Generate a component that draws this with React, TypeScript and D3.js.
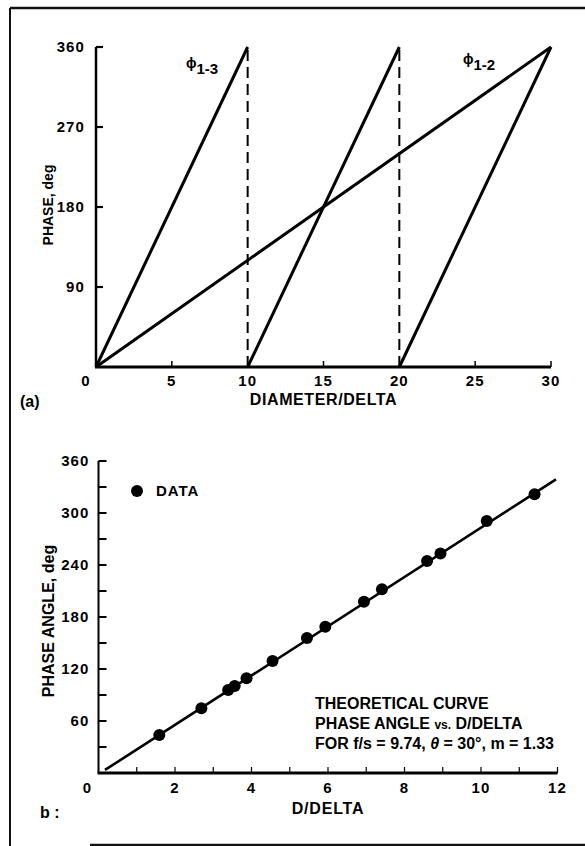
import React from "react";
import * as d3 from "d3";

// ---------- Chart (a) data ----------
const aXTicks = [0, 5, 10, 15, 20, 25, 30];
const aXMinorTicks = [5, 15, 25, 30];
const aYTicks = [90, 180, 270, 360];
const phi13Starts = [0, 10, 20];
const phi13Ends = [10, 20, 30];
const phi12Start = [0];
const phi12End = [30];
const phaseRange = [0, 360];
const dashedX = [10, 20];

// ---------- Chart (b) data ----------
const bXTicks = [0, 2, 4, 6, 8, 10, 12];
const bXMinor = [1, 2, 3, 4, 5, 6, 7, 8, 9, 10, 11, 12];
const bYTicks = [60, 120, 180, 240, 300, 360];
const bYMinor = [30, 60, 90, 120, 150, 180, 210, 240, 270, 300, 330, 360];
const dataX = [1.59, 2.69, 3.39, 3.56, 3.87, 4.55, 5.45, 5.93, 6.94, 7.41, 8.59, 8.94, 10.15, 11.4];
const dataY = [43.8, 74.6, 95.7, 100.3, 109.2, 129.2, 155.7, 168.7, 197.6, 211.9, 244.5, 253.4, 290.7, 321.5];
const curveX = [0.17, 11.96];
const curveY = [3.5, 338.8];

const FONT = "'Liberation Sans', Arial, Helvetica, sans-serif";

export default function App() {
  const W = 585;
  const H = 846;

  const xA = d3.scaleLinear().domain([0, 30]).range([96, 551]);
  const yA = d3.scaleLinear().domain([0, 360]).range([367, 47]);
  const xB = d3.scaleLinear().domain([0, 12]).range([98.5, 557.5]);
  const yB = d3.scaleLinear().domain([0, 360]).range([773, 461]);

  const lineA = d3
    .line<[number, number]>()
    .x((d) => xA(d[0]))
    .y((d) => yA(d[1]));
  const lineB = d3
    .line<[number, number]>()
    .x((d) => xB(d[0]))
    .y((d) => yB(d[1]));

  const tickFont = { fontFamily: FONT, fontWeight: 700, fontSize: 15, letterSpacing: 1.1 } as const;
  const titleFont = { fontFamily: FONT, fontWeight: 700, fontSize: 16 } as const;

  return (
    <svg
      width={W}
      height={H}
      viewBox={`0 0 ${W} ${H}`}
      style={{ position: "absolute", left: 0, top: 0, background: "#fff" }}
    >
      <rect x={0} y={0} width={W} height={H} fill="#fff" />
      {/* frame */}
      <line x1={10} y1={8} x2={W} y2={8} stroke="#111" strokeWidth={2.5} />
      <line x1={10} y1={8} x2={10} y2={H} stroke="#111" strokeWidth={2} />
      <line x1={90} y1={845} x2={W} y2={845} stroke="#111" strokeWidth={2.5} />

      {/* ================= Chart (a) ================= */}
      <g>
        {/* axes */}
        <line x1={xA(0)} y1={yA(0)} x2={xA(0)} y2={yA(360)} stroke="#000" strokeWidth={2.5} />
        <line x1={xA(0) - 1} y1={yA(0)} x2={xA(30)} y2={yA(0)} stroke="#000" strokeWidth={3} />
        {aYTicks.map((t) => (
          <line key={`ay${t}`} x1={xA(0)} x2={xA(0) + 7} y1={yA(t)} y2={yA(t)} stroke="#000" strokeWidth={2.2} />
        ))}
        {aXMinorTicks.map((t) => (
          <line key={`ax${t}`} x1={xA(t)} x2={xA(t)} y1={yA(0)} y2={yA(0) - 6} stroke="#000" strokeWidth={1.5} />
        ))}
        {aYTicks.map((t) => (
          <text key={`ayl${t}`} x={xA(0) - 11} y={yA(t)} dy="0.36em" textAnchor="end" {...tickFont}>
            {t}
          </text>
        ))}
        {aXTicks.map((t) => (
          <text
            key={`axl${t}`}
            x={t === 0 ? xA(0) - 10 : xA(t)}
            y={yA(0) + 14}
            dy="0.36em"
            textAnchor="middle"
            {...tickFont}
          >
            {t}
          </text>
        ))}
        {/* dashed lines */}
        {dashedX.map((x) => (
          <line
            key={`dash${x}`}
            x1={xA(x)}
            x2={xA(x)}
            y1={yA(phaseRange[0])}
            y2={yA(phaseRange[1])}
            stroke="#000"
            strokeWidth={2}
            strokeDasharray="11,6"
          />
        ))}
        {/* phi 1-3 sawtooth */}
        {phi13Starts.map((s, i) => (
          <path
            key={`p13${i}`}
            d={lineA([
              [s, phaseRange[0]],
              [phi13Ends[i], phaseRange[1]],
            ]) || ""}
            fill="none"
            stroke="#000"
            strokeWidth={3}
          />
        ))}
        {/* phi 1-2 */}
        {phi12Start.map((s, i) => (
          <path
            key={`p12${i}`}
            d={lineA([
              [s, phaseRange[0]],
              [phi12End[i], phaseRange[1]],
            ]) || ""}
            fill="none"
            stroke="#000"
            strokeWidth={3}
          />
        ))}
        {/* labels */}
        <text x={186} y={68} fontFamily={FONT} fontWeight={700} fontSize={14}>
          ϕ<tspan fontSize={15} dy={6}>1-3</tspan>
        </text>
        <text x={463} y={64} fontFamily={FONT} fontWeight={700} fontSize={14}>
          ϕ<tspan fontSize={15} dy={6}>1-2</tspan>
        </text>
        <text
          transform={`translate(53,${205}) rotate(-90)`}
          textAnchor="middle"
          fontFamily={FONT}
          fontWeight={700}
          fontSize={14}
        >
          PHASE, deg
        </text>
        <text x={(xA(10) + xA(20)) / 2} y={405} textAnchor="middle" {...titleFont} letterSpacing={0.6}>
          DIAMETER/DELTA
        </text>
        <text x={20} y={407} fontFamily={FONT} fontWeight={700} fontSize={16}>
          (a)
        </text>
      </g>

      {/* ================= Chart (b) ================= */}
      <g>
        <line x1={xB(0)} y1={yB(0)} x2={xB(0)} y2={yB(360)} stroke="#000" strokeWidth={2} />
        <line x1={xB(0) - 1} y1={yB(0)} x2={xB(12)} y2={yB(0)} stroke="#000" strokeWidth={3} />
        {bYMinor.map((t) => (
          <line key={`by${t}`} x1={xB(0)} x2={xB(0) + 8} y1={yB(t)} y2={yB(t)} stroke="#000" strokeWidth={2} />
        ))}
        {bXMinor.map((t) => (
          <line key={`bx${t}`} x1={xB(t)} x2={xB(t)} y1={yB(0)} y2={yB(0) - 6} stroke="#000" strokeWidth={1.2} />
        ))}
        {bYTicks.map((t) => (
          <text key={`byl${t}`} x={xB(0) - 9} y={yB(t)} dy="0.36em" textAnchor="end" {...tickFont}>
            {t}
          </text>
        ))}
        {bXTicks.map((t) => (
          <text
            key={`bxl${t}`}
            x={t === 0 ? xB(0) - 11 : xB(t)}
            y={yB(0) + 15}
            dy="0.36em"
            textAnchor="middle"
            {...tickFont}
          >
            {t}
          </text>
        ))}
        {/* theoretical curve */}
        <path
          d={lineB(curveX.map((x, i) => [x, curveY[i]] as [number, number])) || ""}
          fill="none"
          stroke="#000"
          strokeWidth={2.6}
        />
        {/* data points */}
        {dataX.map((x, i) => (
          <circle key={`pt${i}`} cx={xB(x)} cy={yB(dataY[i])} r={6} fill="#000" />
        ))}
        {/* legend */}
        <circle cx={137} cy={491} r={6} fill="#000" />
        <text x={156} y={491} dy="0.36em" {...titleFont} fontSize={15} letterSpacing={1}>
          DATA
        </text>
        {/* annotation */}
        <text x={315} y={703} dy="0.36em" {...titleFont}>
          THEORETICAL CURVE
        </text>
        <text x={315} y={723} dy="0.36em" {...titleFont}>
          PHASE ANGLE <tspan fontSize={12}>vs.</tspan> D/DELTA
        </text>
        <text x={315} y={743} dy="0.36em" {...titleFont}>
          FOR f/s = 9.74, <tspan fontStyle="italic">θ</tspan> = 30°, m = 1.33
        </text>
        <text
          transform={`translate(48,${621}) rotate(-90)`}
          textAnchor="middle"
          dy="0.36em"
          {...titleFont}
        >
          PHASE ANGLE, deg
        </text>
        <text x={328} y={808} dy="0.36em" textAnchor="middle" {...titleFont} letterSpacing={0.8}>
          D/DELTA
        </text>
        <text x={40} y={812} dy="0.36em" fontFamily={FONT} fontWeight={700} fontSize={16}>
          b :
        </text>
      </g>
    </svg>
  );
}
